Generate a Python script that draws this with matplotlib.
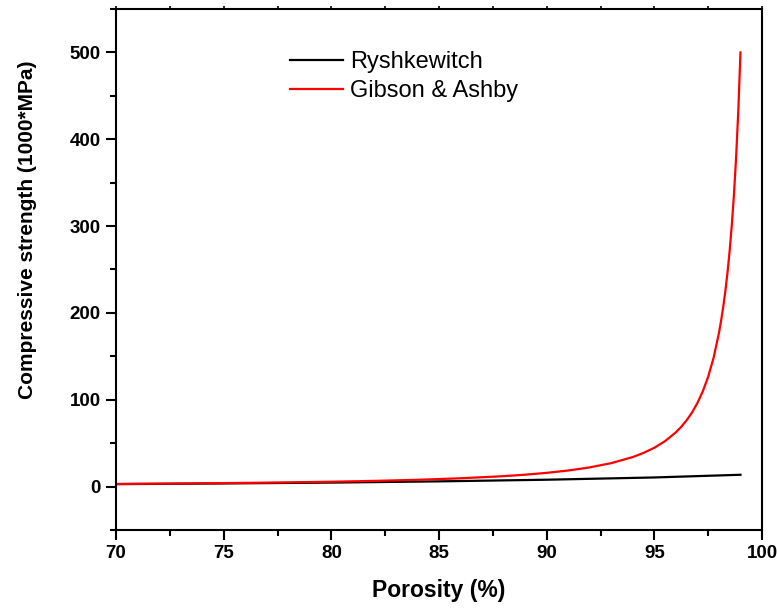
import numpy as np
import matplotlib
matplotlib.use('Agg')
import matplotlib.pyplot as plt
from matplotlib.ticker import MultipleLocator

plt.rcParams['font.family'] = ['Liberation Sans', 'DejaVu Sans']

# values
rysh_porosity = [70, 75, 80, 85, 90, 95, 99]
rysh_strength = [2.8, 3.6, 4.6, 6.0, 7.9, 10.5, 13.6]

ga_porosity = [70, 72, 74, 76, 78, 80, 82, 84, 86, 88, 89, 90, 91, 92, 93, 94,
               94.5, 95, 95.5, 96, 96.25, 96.5, 96.75, 97, 97.25, 97.5, 97.75,
               98, 98.1, 98.2, 98.3, 98.4, 98.5, 98.6, 98.7, 98.8, 98.9, 99]
ga_strength = [3.04, 3.37, 3.77, 4.25, 4.85, 5.59, 6.55, 7.81, 9.55, 12.0, 13.7,
               15.8, 18.5, 22.1, 27.0, 34.0, 38.8, 44.7, 52.4, 62.5, 68.8, 76.4,
               85.3, 96.2, 109.7, 126.5, 148.1, 176.8, 191.0, 207.0, 225.5, 247.0,
               272.2, 301.8, 337.3, 380.4, 433.3, 500.0]

fig = plt.figure(figsize=(7.77, 6.08), dpi=100)
ax = fig.add_axes([0.1493, 0.1283, 0.8314, 0.8569])

ax.plot(rysh_porosity, rysh_strength, color='black', lw=1.6, label='Ryshkewitch')
ax.plot(ga_porosity, ga_strength, color='#ff0000', lw=1.6, label='Gibson & Ashby')

ax.set_xlim(70, 100)
ax.set_ylim(-50, 550)
ax.xaxis.set_major_locator(MultipleLocator(5))
ax.xaxis.set_minor_locator(MultipleLocator(2.5))
ax.yaxis.set_major_locator(MultipleLocator(100))
ax.yaxis.set_minor_locator(MultipleLocator(50))

for s in ax.spines.values():
    s.set_linewidth(1.5)

ax.tick_params(which='major', direction='out', length=7, width=1.5,
               labelsize=13.5, pad=4, right=False, top=False)
ax.tick_params(which='minor', direction='out', length=4, width=1.5,
               right=False, top=False)
for lab in ax.get_xticklabels() + ax.get_yticklabels():
    lab.set_fontweight('bold')

# tiny ticks along the top edge
top = ax.twiny()
top.set_xlim(ax.get_xlim())
top.xaxis.set_major_locator(MultipleLocator(5))
top.xaxis.set_minor_locator(MultipleLocator(2.5))
top.tick_params(which='both', direction='out', length=2, width=1.2, labeltop=False)
for s in top.spines.values():
    s.set_visible(False)

ax.set_xlabel('Porosity (%)', fontsize=16.5, fontweight='bold', labelpad=12)
ax.set_ylabel('Compressive strength (1000*MPa)', fontsize=15, fontweight='bold')
ax.yaxis.set_label_coords(-0.122, 0.576)

ax.legend(loc='upper left', bbox_to_anchor=(0.236, 0.96), frameon=False,
          fontsize=17, handlelength=2.25, handletextpad=0.3, labelspacing=0.3)

fig.savefig('out.png', dpi=100)
